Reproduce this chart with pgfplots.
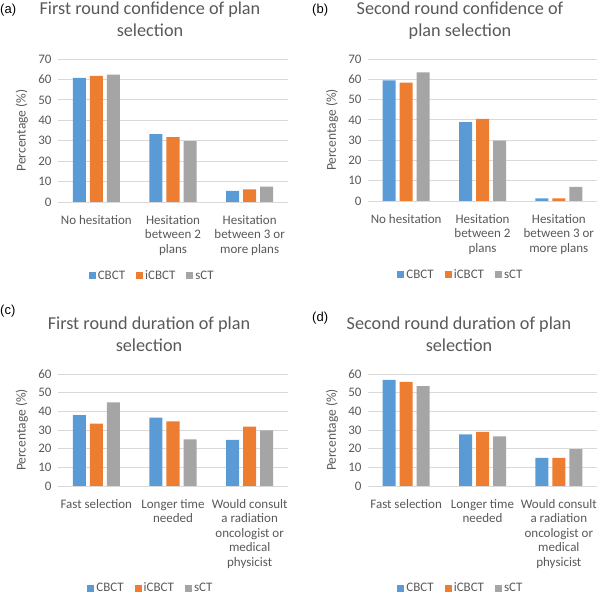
\documentclass[border=0pt]{standalone}
\usepackage{pgfplots}
\pgfplotsset{compat=1.18}
\usepackage{fontspec}
\setmainfont{Carlito}
\newfontfamily\arialfont{Liberation Sans}
\definecolor{cb}{HTML}{5B9BD5}
\definecolor{ic}{HTML}{ED7D31}
\definecolor{sc}{HTML}{A5A5A5}
\definecolor{txt}{HTML}{595959}
\definecolor{grd}{HTML}{D9D9D9}

\pgfplotsset{
  panel/.style={
    scale only axis, width=230bp,
    ybar=4bp, bar width=13bp,
    xmin=-0.5, xmax=2.5, xtick={0,1,2}, ymin=0,
    ytick distance=10,
    axis line style={draw=none},
    tick style={draw=none},
    ymajorgrids, major grid style={grd, line width=0.8bp},
    /pgf/number format/assume math mode=true,
    tick label style={text=txt, font=\fontsize{13bp}{14.5bp}\selectfont},
    xticklabel style={align=center, anchor=north, yshift=-5.5bp},
    yticklabel style={xshift=-3bp},
    ylabel={Percentage (\%)},
    ylabel style={at={(axis description cs:-0.157,0.5)}, anchor=center, text=txt, font=\fontsize{13.5bp}{14bp}\selectfont},
    legend style={draw=none, fill=none, legend columns=3, anchor=center, text=txt, font=\fontsize{13bp}{14bp}\selectfont, /tikz/every even column/.append style={column sep=9bp}},
    legend image code/.code={\path[#1] (0bp,-3.5bp) rectangle (7bp,3.5bp);},
  },
  cbs/.style={fill=cb, draw=none},
  ics/.style={fill=ic, draw=none},
  scs/.style={fill=sc, draw=none},
}

\begin{document}
\begin{tikzpicture}
\path[use as bounding box] (0,0) rectangle (600bp,595bp);

% (a)
\begin{axis}[panel, at={(58bp,393bp)}, anchor=south west, height=143bp, ymax=70,
  xticklabels={{No hesitation},{Hesitation\\between 2\\plans},{Hesitation\\between 3 or\\more plans}},
  legend style={at={(axis description cs:0.41,-0.517)}}]
\addplot[cbs] coordinates {(0,60.7) (1,33.2) (2,5.5)};
\addplot[ics] coordinates {(0,61.7) (1,31.8) (2,6.2)};
\addplot[scs] coordinates {(0,62.3) (1,29.8) (2,7.5)};
\legend{CBCT,iCBCT,sCT}
\end{axis}

% (b)
\begin{axis}[panel, at={(368bp,394bp)}, anchor=south west, width=229bp, height=142bp, ymax=70,
  xticklabels={{No hesitation},{Hesitation\\between 2\\plans},{Hesitation\\between 3 or\\more plans}},
  legend style={at={(axis description cs:0.406,-0.521)}}]
\addplot[cbs] coordinates {(0,59.5) (1,38.9) (2,1.3)};
\addplot[ics] coordinates {(0,58.4) (1,40.5) (2,1.3)};
\addplot[scs] coordinates {(0,63.4) (1,29.7) (2,6.9)};
\legend{CBCT,iCBCT,sCT}
\end{axis}

% (c)
\begin{axis}[panel, at={(58bp,109bp)}, anchor=south west, height=112bp, ymax=60,
  xticklabels={{Fast selection},{Longer time\\needed},{Would consult\\a radiation\\oncologist or\\medical\\physicist}},
  legend style={at={(axis description cs:0.404,-0.911)}}]
\addplot[cbs] coordinates {(0,38.0) (1,36.6) (2,24.7)};
\addplot[ics] coordinates {(0,33.4) (1,34.6) (2,31.8)};
\addplot[scs] coordinates {(0,44.8) (1,25.0) (2,29.8)};
\legend{CBCT,iCBCT,sCT}
\end{axis}

% (d)
\begin{axis}[panel, at={(368bp,109bp)}, anchor=south west, width=229bp, height=112bp, ymax=60,
  xticklabels={{Fast selection},{Longer time\\needed},{Would consult\\a radiation\\oncologist or\\medical\\physicist}},
  legend style={at={(axis description cs:0.406,-0.911)}}]
\addplot[cbs] coordinates {(0,56.8) (1,27.7) (2,15.1)};
\addplot[ics] coordinates {(0,55.8) (1,29.0) (2,15.1)};
\addplot[scs] coordinates {(0,53.5) (1,26.6) (2,19.7)};
\legend{CBCT,iCBCT,sCT}
\end{axis}

% titles
\begin{scope}[every node/.style={anchor=base, text=txt, font=\fontsize{18.2bp}{22bp}\selectfont, inner sep=0pt}]
\node at (150bp,580bp) {First round confidence of plan};
\node at (150bp,558bp) {selection};
\node at (460bp,580bp) {Second round confidence of};
\node at (460bp,558bp) {plan selection};
\node at (149bp,265bp) {First round duration of plan};
\node at (149bp,243bp) {selection};
\node at (459bp,265bp) {Second round duration of plan};
\node at (459bp,243bp) {selection};
\end{scope}
\begin{scope}[every node/.style={anchor=base west, inner sep=0pt, font=\arialfont\fontsize{13bp}{15bp}\selectfont}]
\node at (0bp,581bp) {(a)};
\node at (312bp,581bp) {(b)};
\node at (0bp,280bp) {(c)};
\node at (312bp,273bp) {(d)};
\end{scope}
\end{tikzpicture}
\end{document}
